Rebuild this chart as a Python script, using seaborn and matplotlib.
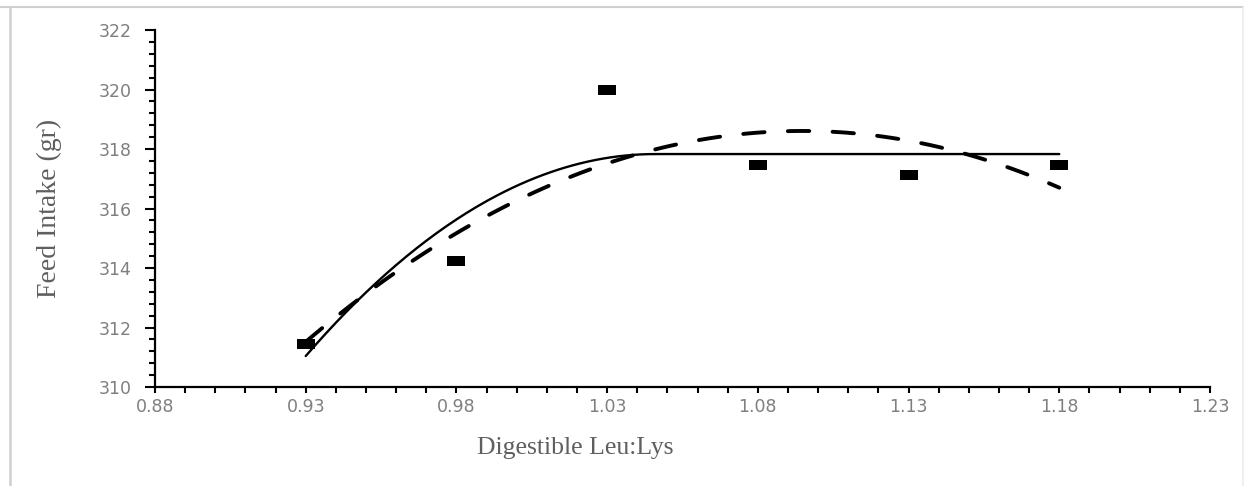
import numpy as np
import pandas as pd
import seaborn as sns
import matplotlib
matplotlib.use("Agg")
import matplotlib.pyplot as plt
from matplotlib.path import Path
from matplotlib.lines import Line2D
from matplotlib.ticker import MultipleLocator, FormatStrFormatter

# ---- data ----
leu_lys = [0.93, 0.98, 1.03, 1.08, 1.13, 1.18]
feed_intake = [311.45, 314.22, 320.0, 317.47, 317.12, 317.47]

# quadratic-plateau (broken-line) model
qp_plateau = 317.83
qp_break = 1.046
qp_curv = 504.6
qp_range = [0.93, 1.18]

x_ticks = [0.88, 0.93, 0.98, 1.03, 1.08, 1.13, 1.18, 1.23]
y_ticks = [310, 312, 314, 316, 318, 320, 322]

sns.set_theme(style="white")

fig = plt.figure(figsize=(12.44, 4.86), dpi=100)
ax = fig.add_axes([155/1244, 1 - 387/486, (1210-155)/1244, (387-30)/486])

df = pd.DataFrame({"x": leu_lys, "y": feed_intake})

# dashed quadratic fit (library regression)
sns.regplot(data=df, x="x", y="y", order=2, ci=None, scatter=False, ax=ax,
            line_kws=dict(color="black", lw=2.8, linestyle=(0, (5.5, 6.0)),
                          dash_capstyle="round"))

# solid quadratic-plateau curve
xs = np.linspace(qp_range[0], qp_range[1], 300)
ys = np.where(xs < qp_break, qp_plateau - qp_curv * (qp_break - xs) ** 2, qp_plateau)
sns.lineplot(x=xs, y=ys, ax=ax, color="black", lw=1.7)

# observed means: wide black rectangles
rect = Path([(-0.85, -0.52), (0.85, -0.52), (0.85, 0.52), (-0.85, 0.52), (-0.85, -0.52)],
            [Path.MOVETO, Path.LINETO, Path.LINETO, Path.LINETO, Path.CLOSEPOLY])
sns.scatterplot(data=df, x="x", y="y", ax=ax, marker=rect, s=165, color="black",
                edgecolor="black", linewidth=0, zorder=5)

ax.set_xlim(x_ticks[0], x_ticks[-1])
ax.set_ylim(y_ticks[0], y_ticks[-1])
ax.set_xticks(x_ticks)
ax.set_yticks(y_ticks)
ax.xaxis.set_major_formatter(FormatStrFormatter("%.2f"))
ax.xaxis.set_minor_locator(MultipleLocator(0.01))
ax.yaxis.set_minor_locator(MultipleLocator(0.4))

for s in ["top", "right"]:
    ax.spines[s].set_visible(False)
for s in ["left", "bottom"]:
    ax.spines[s].set_color("black")
    ax.spines[s].set_linewidth(1.6)

tick_col = "#7f7f7f"
ax.tick_params(axis="both", which="both", direction="out", color="black",
               labelcolor=tick_col, labelsize=12.5)
ax.tick_params(axis="y", which="major", length=7, width=1.5, pad=10, left=True)
ax.tick_params(axis="y", which="minor", length=4.5, width=1.5, left=True)
ax.tick_params(axis="x", which="major", length=4, width=1.5, pad=4, bottom=True)
ax.tick_params(axis="x", which="minor", length=4, width=1.5, bottom=True)
for lab in ax.get_xticklabels() + ax.get_yticklabels():
    lab.set_fontfamily("DejaVu Sans")
    lab.set_fontsize(12.5)

ax.set_xlabel("Digestible Leu:Lys", family="Liberation Serif", fontsize=18.5, color="#5f5f5f")
ax.set_ylabel("Feed Intake (gr)", family="Liberation Serif", fontsize=20, color="#5f5f5f")
ax.xaxis.set_label_coords(0.398, -0.14)
ax.yaxis.set_label_coords(-0.088, 0.5)
ax.grid(False)

# light gray page frame
frame_col = "#cfcfcf"
fig.add_artist(Line2D([0, 1], [1 - 7/486, 1 - 7/486], transform=fig.transFigure,
                      color=frame_col, lw=1.5))
fig.add_artist(Line2D([10/1244, 10/1244], [0, 1 - 7/486], transform=fig.transFigure,
                      color=frame_col, lw=1.8))
fig.add_artist(Line2D([1242.5/1244, 1242.5/1244], [0, 1 - 7/486], transform=fig.transFigure,
                      color="#ececec", lw=1.2))

fig.savefig("out.png", dpi=100)
